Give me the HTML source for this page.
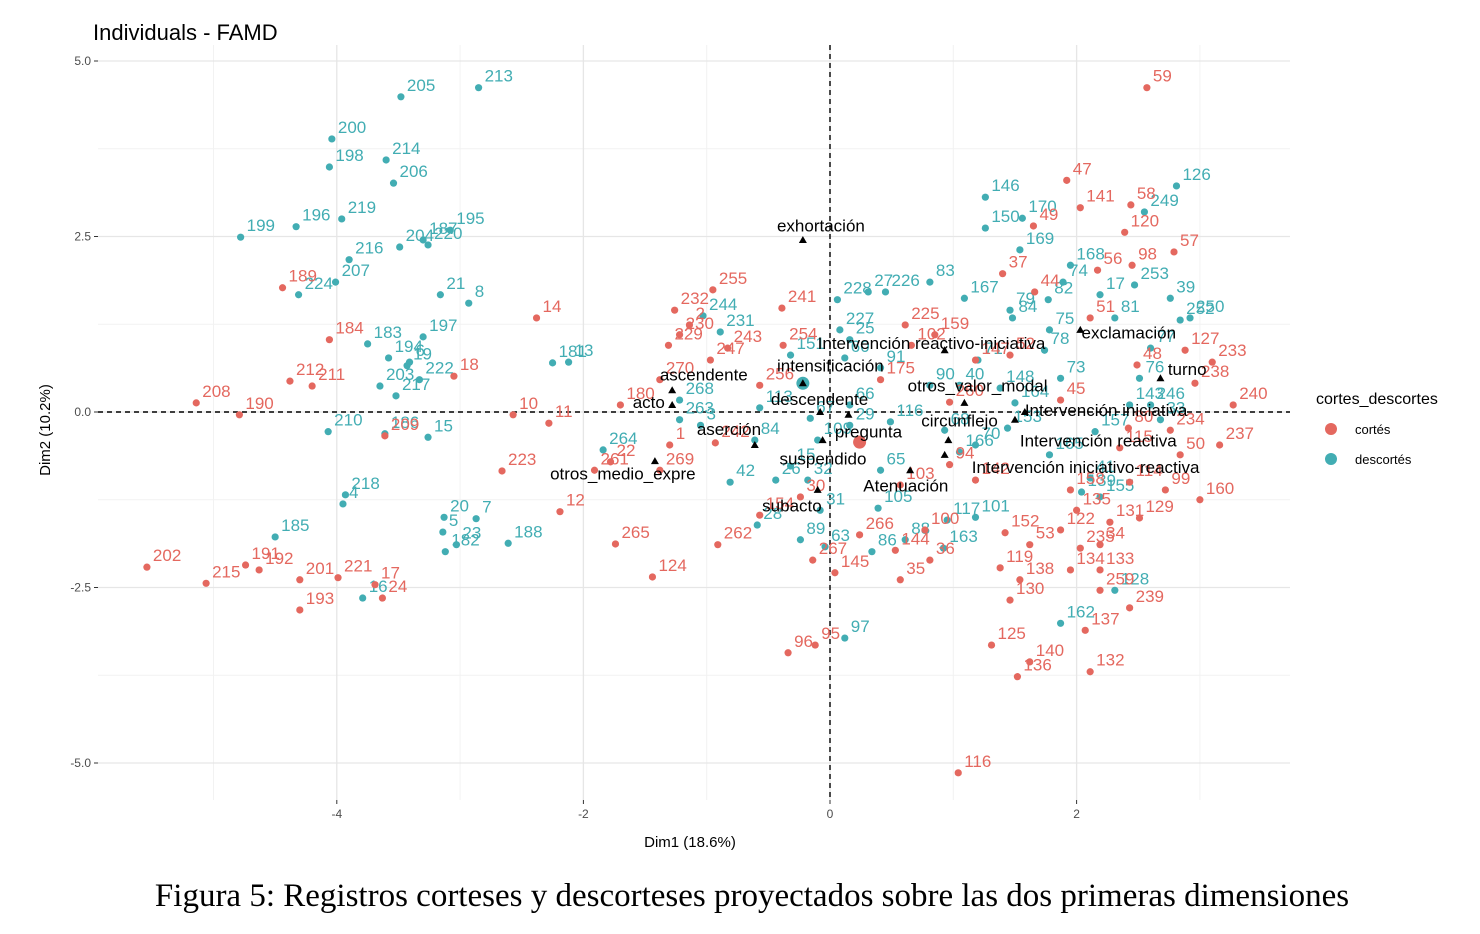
<!DOCTYPE html>
<html><head><meta charset="utf-8">
<style>
html,body{margin:0;padding:0;background:#fff;width:1480px;height:934px;overflow:hidden}
svg{display:block}
text{font-family:"Liberation Sans",sans-serif}
</style></head>
<body>
<svg id="chart" width="1480" height="934"></svg>
<script>
// ---- data ----
const xTicks = [-4, -2, 0, 2];
const yTicks = [-5.0, -2.5, 0.0, 2.5, 5.0];
const groups = ["cortés", "descortés"];
// [label, dim1, dim2]
const descortes = [
["213",-2.85,4.62],["205",-3.48,4.49],["200",-4.04,3.89],["214",-3.60,3.59],["198",-4.06,3.49],["206",-3.54,3.26],
["219",-3.96,2.75],["196",-4.33,2.64],["195",-3.08,2.59],["187",-3.30,2.45],["199",-4.78,2.49],["216",-3.90,2.17],
["204",-3.49,2.35],["220",-3.26,2.38],["21",-3.16,1.67],["224",-4.31,1.67],["207",-4.01,1.85],["8",-2.93,1.55],
["197",-3.30,1.07],["183",-3.75,0.97],["194",-3.58,0.77],["6",-3.41,0.71],["203",-3.65,0.37],["19",-3.43,0.66],
["222",-3.33,0.46],["217",-3.52,0.23],["186",-3.61,-0.31],["210",-4.07,-0.28],["15",-3.26,-0.36],["218",-3.93,-1.18],
["4",-3.95,-1.31],["185",-4.50,-1.78],["20",-3.13,-1.50],["7",-2.87,-1.52],["5",-3.14,-1.71],["23",-3.03,-1.89],
["182",-3.12,-1.99],["188",-2.61,-1.87],["16",-3.79,-2.65],["13",-2.12,0.71],["181",-2.25,0.70],["264",-1.84,-0.54],
["244",-1.03,1.37],["231",-0.89,1.14],["268",-1.22,0.17],["263",-1.22,-0.11],["3",-1.05,-0.19],["84",-0.61,-0.40],
["42",-0.81,-1.00],["26",-0.44,-0.97],["28",-0.59,-1.61],["15b",-0.32,-0.77],["89",-0.24,-1.82],["63",-0.04,-1.92],
["31",-0.08,-1.40],["32",-0.18,-0.97],["109",-0.10,-0.40],["67",-0.16,-0.09],["113",-0.57,0.06],["151",-0.32,0.81],
["228",0.06,1.60],["227",0.08,1.17],["25",0.16,1.03],["60",0.12,0.77],["27",0.31,1.71],["226",0.45,1.71],
["83",0.81,1.85],["97",0.12,-3.22],["86",0.34,-1.99],["88",0.61,-1.82],["105",0.39,-1.37],["65",0.41,-0.83],
["163",0.92,-1.94],["101",1.18,-1.50],["117",0.95,-1.54],["146",1.26,3.06],["150",1.26,2.62],["170",1.56,2.76],
["169",1.54,2.31],["167",1.09,1.62],["79",1.46,1.45],["82",1.77,1.60],["74",1.89,1.85],["168",1.95,2.09],
["84b",1.48,1.34],["75",1.78,1.17],["78",1.74,0.88],["73",1.87,0.48],["71",1.20,0.74],["40",1.05,0.38],
["90",0.81,0.38],["91",0.41,0.63],["148",1.38,0.34],["164",1.50,0.13],["153",1.44,-0.23],["70",1.18,-0.47],
["166",1.05,-0.57],["165",1.78,-0.61],["41",2.11,-0.94],["157",2.15,-0.28],["139",2.04,-1.14],["155",2.19,-1.21],
["126",2.81,3.22],["249",2.55,2.85],["253",2.47,1.81],["39",2.76,1.62],["252",2.84,1.31],["250",2.92,1.34],
["17",2.19,1.67],["81",2.31,1.34],["77",2.60,0.91],["76",2.51,0.48],["143",2.43,0.10],["246",2.60,0.10],
["33",2.68,-0.11],["128",2.31,-2.54],["162",1.87,-3.01],["29",0.16,-0.19],["66",0.16,0.10],["116",0.49,-0.14],
["68",0.93,-0.26]
];
const cortes = [
["59",2.57,4.62],["47",1.92,3.30],["141",2.03,2.91],["58",2.44,2.95],["49",1.65,2.65],["120",2.39,2.56],
["57",2.79,2.28],["98",2.45,2.09],["37",1.40,1.97],["44",1.66,1.71],["56",2.17,2.02],["51",2.11,1.34],
["127",2.88,0.88],["48",2.49,0.67],["233",3.10,0.71],["238",2.96,0.41],["240",3.27,0.10],["80",2.42,-0.23],
["234",2.76,-0.26],["115",2.35,-0.51],["50",2.84,-0.61],["237",3.16,-0.47],["114",2.43,-1.00],["99",2.72,-1.11],
["160",3.00,-1.25],["129",2.51,-1.51],["131",2.27,-1.57],["135",2.00,-1.40],["158",1.95,-1.11],["34",2.19,-1.89],
["122",1.87,-1.68],["235",2.03,-1.94],["53",1.62,-1.89],["133",2.19,-2.25],["134",1.95,-2.25],["259",2.19,-2.54],
["239",2.43,-2.79],["137",2.07,-3.11],["132",2.11,-3.70],["119",1.38,-2.22],["130",1.46,-2.68],["138",1.54,-2.39],
["125",1.31,-3.32],["140",1.62,-3.56],["136",1.52,-3.77],["152",1.42,-1.72],["116",1.04,-5.14],["142",1.18,-0.97],
["94",0.97,-0.75],["103",0.57,-1.04],["100",0.77,-1.68],["36",0.81,-2.11],["144",0.53,-1.97],["35",0.57,-2.39],
["145",0.04,-2.29],["266",0.24,-1.75],["267",-0.14,-2.11],["262",-0.91,-1.89],["265",-1.74,-1.88],["124",-1.44,-2.35],
["96",-0.34,-3.43],["95",-0.12,-3.32],["154",-0.57,-1.47],["30",-0.24,-1.21],["269",-1.38,-0.83],["242",-0.93,-0.44],
["1",-1.30,-0.47],["22",-1.78,-0.71],["261",-1.91,-0.83],["12",-2.19,-1.42],["223",-2.66,-0.84],["180",-1.70,0.10],
["11",-2.28,-0.16],["10",-2.57,-0.04],["14",-2.38,1.34],["18",-3.05,0.51],["232",-1.26,1.45],["230",-1.22,1.10],
["2",-1.14,1.24],["255",-0.95,1.74],["243",-0.83,0.91],["229",-1.31,0.95],["247",-0.97,0.74],["270",-1.38,0.46],
["241",-0.39,1.48],["254",-0.38,0.95],["256",-0.57,0.38],["225",0.61,1.24],["159",0.85,1.10],["102",0.66,0.95],
["147",1.18,0.74],["175",0.41,0.46],["260",0.97,0.14],["52",1.46,0.81],["45",1.87,0.17],["184",-4.06,1.03],
["189",-4.44,1.77],["212",-4.38,0.44],["211",-4.20,0.37],["208",-5.14,0.13],["190",-4.79,-0.04],["209",-3.61,-0.34],
["202",-5.54,-2.21],["215",-5.06,-2.44],["191",-4.74,-2.18],["192",-4.63,-2.25],["193",-4.30,-2.82],["201",-4.30,-2.39],
["221",-3.99,-2.36],["17",-3.69,-2.46],["24",-3.63,-2.65]
];
// group centres [dim1, dim2]
const centreCortes = [0.24, -0.43];
const centreDescortes = [-0.22, 0.41];
// category labels [label, dim1, dim2, labelDim1, labelDim2]
const categories = [
["exhortación",-0.22,2.45,-0.43,2.57],["ascendente",-1.28,0.31,-1.38,0.45],["acto",-1.28,0.10,-1.60,0.06],
["aserción",-0.61,-0.47,-1.08,-0.33],["otros_medio_expre",-1.42,-0.70,-2.27,-0.96],["intensificación",-0.22,0.41,-0.43,0.58],
["descendente",-0.08,0.0,-0.48,0.10],["pregunta",0.15,-0.04,0.04,-0.36],["suspendido",-0.06,-0.40,-0.41,-0.75],
["subacto",-0.10,-1.11,-0.55,-1.42],["Atenuación",0.65,-0.83,0.27,-1.13],["Intervención reactivo-iniciativa",0.93,0.88,-0.10,0.90],
["otros_valor_modal",1.09,0.13,0.63,0.29],["circunflejo",1.50,-0.11,0.74,-0.21],["Intervención iniciativa",1.58,0.0,1.58,-0.06],
["Intervención reactiva",0.96,-0.40,1.54,-0.49],["Intervención iniciativo-reactiva",0.93,-0.61,1.15,-0.87],
["exclamación",2.03,1.17,2.04,1.05],["turno",2.68,0.48,2.74,0.53]
];
// ---- scales ----
const X0=830, XS=123.3, Y0=412, YS=70.2;
const sx=v=>X0+v*XS, sy=v=>Y0-v*YS;
const RED="#e4685f", TEAL="#42adb3";
const NS="http://www.w3.org/2000/svg";
const svg=document.getElementById('chart');
function mk(tag,attrs,parent){const e=document.createElementNS(NS,tag);for(const k in attrs)e.setAttribute(k,attrs[k]);(parent||svg).appendChild(e);return e;}
const PL=98,PR=1290,PT=45,PB=800;
const panel=mk('g',{});


for(let v=-5;v<=3;v+=1){const x=sx(v);if(x>PL&&x<PR){const l=mk('line',{x1:x,x2:x,y1:PT,y2:PB,stroke:"#f2f2f2","stroke-width":1},panel);}}
for(let v=-6.25;v<=6.25;v+=2.5){const y=sy(v);if(y>PT&&y<PB){const l=mk('line',{x1:PL,x2:PR,y1:y,y2:y,stroke:"#f2f2f2","stroke-width":1},panel);}}
xTicks.forEach(t=>{const x=sx(t);
const l=mk('line',{x1:x,x2:x,y1:PT,y2:PB,stroke:"#e6e6e6","stroke-width":1.3},panel);


mk('line',{x1:x,x2:x,y1:PB,y2:PB+4,stroke:"#333","stroke-width":1});
const tx=mk('text',{x:x,y:PB+18,"text-anchor":"middle","font-size":12,fill:"#4d4d4d"});tx.textContent=t;

});
yTicks.forEach(t=>{const y=sy(t);
const l=mk('line',{x1:PL,x2:PR,y1:y,y2:y,stroke:"#e6e6e6","stroke-width":1.3},panel);


mk('line',{x1:PL-4,x2:PL,y1:y,y2:y,stroke:"#333","stroke-width":1});
const tx=mk('text',{x:PL-7,y:y+4,"text-anchor":"end","font-size":12,fill:"#4d4d4d"});tx.textContent=t.toFixed(1);

});
const zx=mk('line',{x1:sx(0),x2:sx(0),y1:PT,y2:PB,stroke:"#000","stroke-width":1.4,"stroke-dasharray":"5,4"});


const zy=mk('line',{x1:PL,x2:PR,y1:sy(0),y2:sy(0),stroke:"#000","stroke-width":1.4,"stroke-dasharray":"5,4"});


function drawSet(arr,color,name){arr.forEach(p=>{
const x=sx(p[1]),y=sy(p[2]);
const c=mk('circle',{cx:x,cy:y,r:3.6,fill:color});


const t=mk('text',{x:x+6,y:y-6,"font-size":17,fill:color});t.textContent=p[0].replace(/[ab]$/,'');

});}
drawSet(descortes,TEAL,'descortes');
drawSet(cortes,RED,'cortes');
const c1=mk('circle',{cx:sx(centreCortes[0]),cy:sy(centreCortes[1]),r:6.5,fill:RED});


const c2=mk('circle',{cx:sx(centreDescortes[0]),cy:sy(centreDescortes[1]),r:6.5,fill:TEAL});


categories.forEach(c=>{const x=sx(c[1]),y=sy(c[2]);
const tr=mk('polygon',{points:`${x},${y-4} ${x-4},${y+3} ${x+4},${y+3}`,fill:"#000"});


const t=mk('text',{x:sx(c[3]),y:sy(c[4]),"font-size":17,fill:"#000"});t.textContent=c[0];

});
const title=mk('text',{x:93,y:40,"font-size":22,fill:"#000"});title.textContent="Individuals - FAMD";


const xt=mk('text',{x:690,y:847,"text-anchor":"middle","font-size":15,fill:"#000"});xt.textContent="Dim1 (18.6%)";


const yt=mk('text',{x:50,y:430,"text-anchor":"middle","font-size":15,fill:"#000",transform:"rotate(-90 50 430)"});yt.textContent="Dim2 (10.2%)";


const lt=mk('text',{x:1316,y:404,"font-size":16,fill:"#000"});lt.textContent="cortes_descortes";


[[RED,groups[0],429],[TEAL,groups[1],459]].forEach(g=>{
const d=mk('circle',{cx:1331,cy:g[2],r:6,fill:g[0]});


const t=mk('text',{x:1355,y:g[2]+5,"font-size":13,fill:"#000"});t.textContent=g[1];

});
const cap=mk('text',{x:752,y:906,"text-anchor":"middle","font-size":33,fill:"#000"});
cap.setAttribute('style','font-family:"Liberation Serif",serif');
cap.textContent="Figura 5: Registros corteses y descorteses proyectados sobre las dos primeras dimensiones";


</script>
</body></html>
